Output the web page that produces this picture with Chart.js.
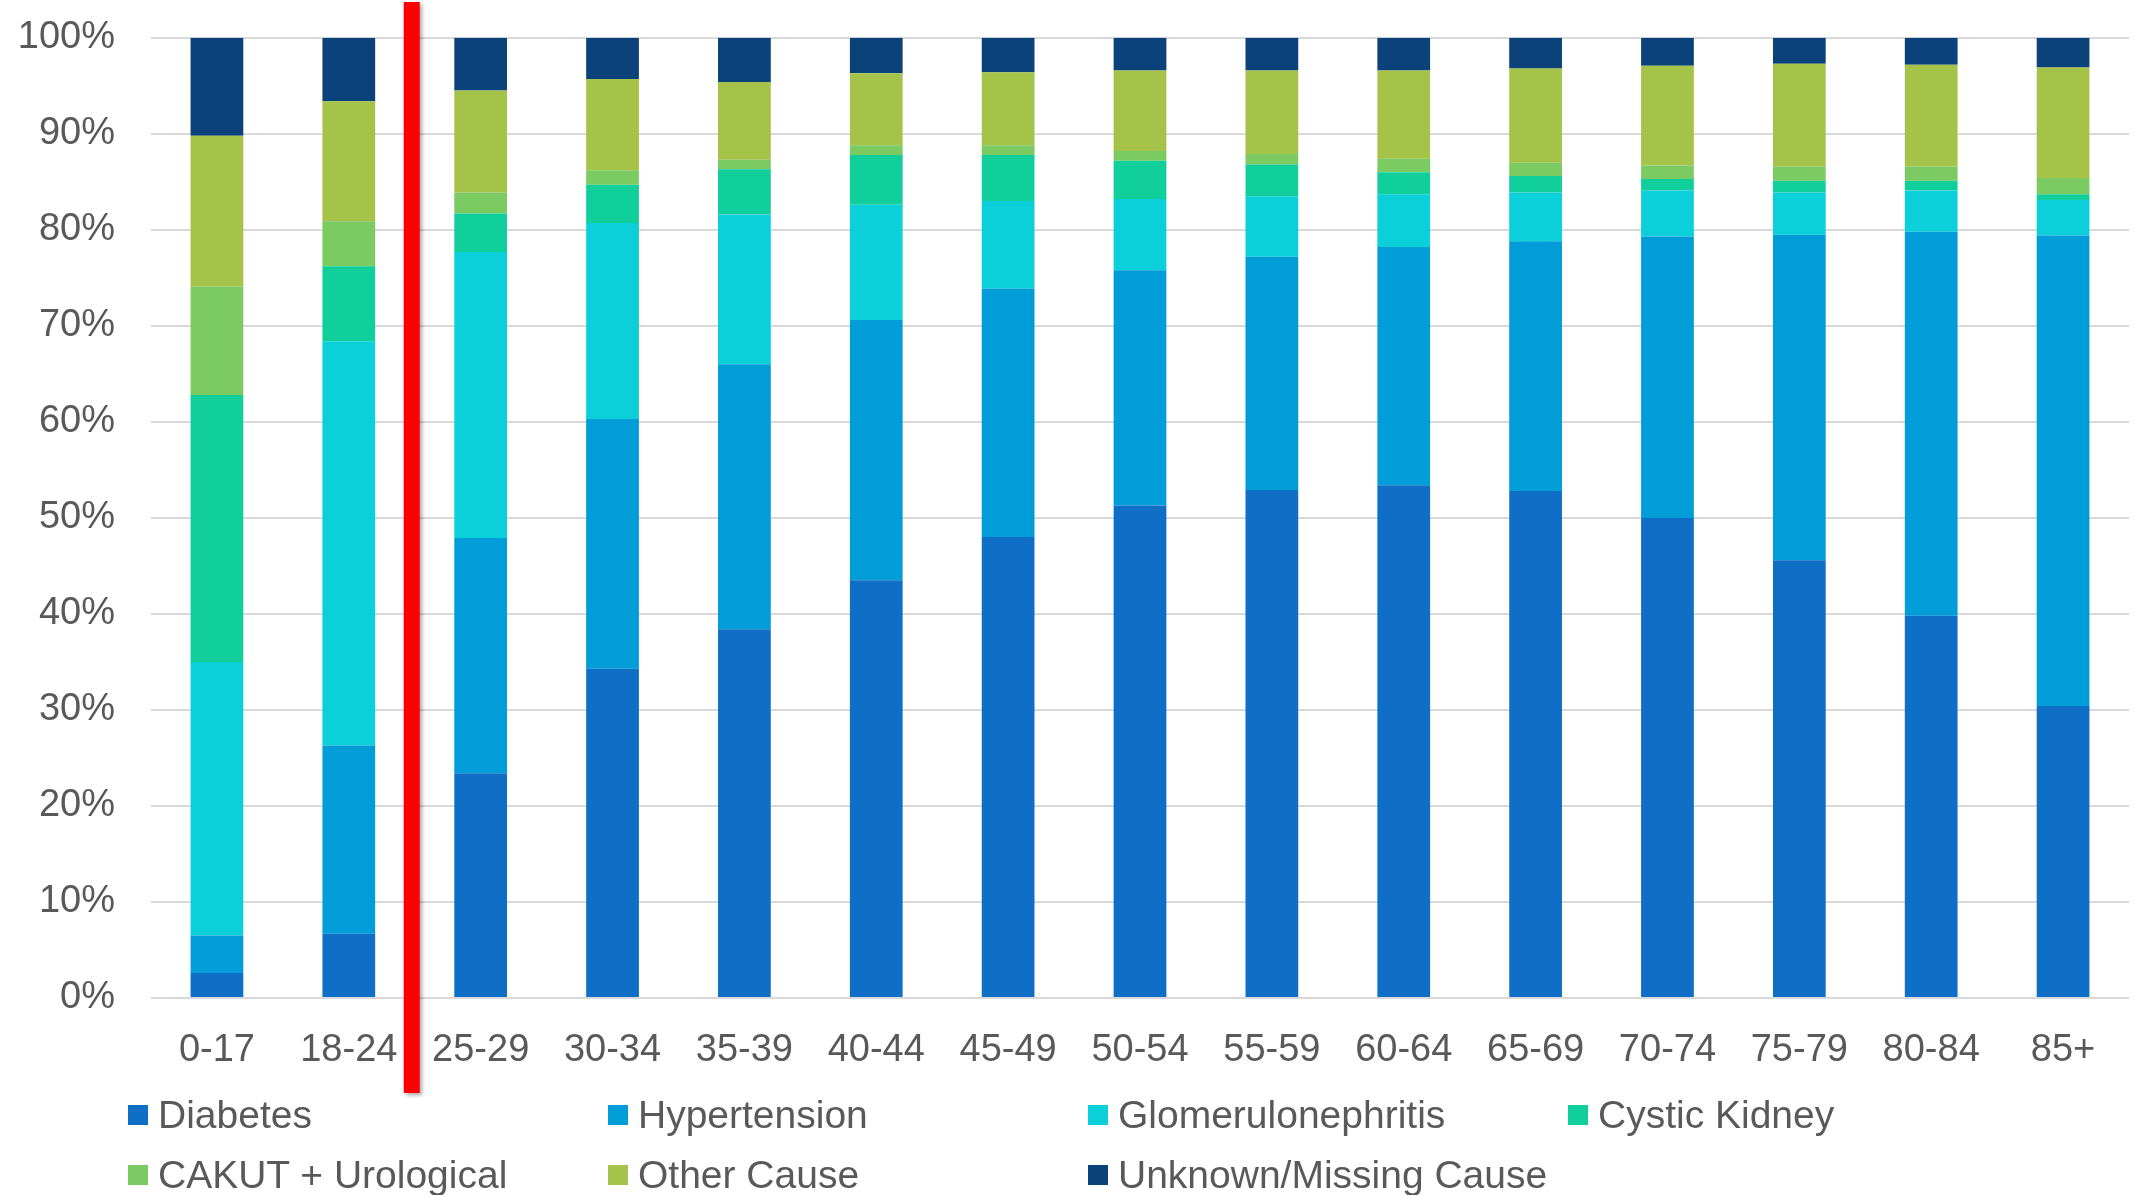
<!DOCTYPE html>
<html>
<head>
<meta charset="utf-8">
<script src="https://cdn.jsdelivr.net/npm/chart.js@4.4.1/dist/chart.umd.min.js"></script>
<style>
  body {
    margin: 0;
    background: #ffffff;
    overflow: hidden;
  }
  .wrap {
    position: relative;
    width: 2139px;
    height: 1195px;
    overflow: hidden;
  }
  /* the canvas sits a little above the page top so the plot can start higher */
  #causes-chart {
    position: absolute;
    left: 0;
    top: -21px;
  }
  .legend {
    position: absolute;
    left: 128px;
    top: 1085px;
    display: grid;
    grid-template-columns: repeat(4, 480px);
    font-family: "Liberation Sans", Arial, sans-serif;
    font-size: 39px;
    color: #595959;
  }
  .legend-item {
    display: flex;
    align-items: center;
    height: 60px;
    white-space: nowrap;
  }
  .legend-item span {
    display: inline-block;
    width: 20px;
    height: 20px;
    margin-right: 10px;
  }
</style>
</head>
<body>
<div class="wrap">
  <canvas id="causes-chart" width="2139" height="1216"></canvas>
  <div class="legend" id="causes-legend"></div>
</div>
<script>
const ageGroups = [
  "0-17", "18-24", "25-29", "30-34", "35-39", "40-44", "45-49", "50-54",
  "55-59", "60-64", "65-69", "70-74", "75-79", "80-84", "85+",
];

// share of each primary cause per age group, in percent
const diabetes = [2.6, 6.7, 23.4, 34.3, 38.4, 43.5, 48.0, 51.3, 52.9, 53.4, 52.8, 50.0, 45.6, 39.8, 30.4];
const hypertension = [3.9, 19.6, 24.5, 26.0, 27.6, 27.1, 25.9, 24.5, 24.3, 24.8, 26.0, 29.3, 33.9, 40.0, 49.0];
const glomerulonephritis = [28.5, 42.1, 29.8, 20.4, 15.6, 12.0, 9.1, 7.4, 6.3, 5.5, 5.1, 4.8, 4.4, 4.3, 3.7];
const cysticKidney = [27.8, 7.8, 4.0, 4.0, 4.7, 5.2, 4.8, 4.0, 3.3, 2.3, 1.7, 1.2, 1.2, 1.0, 0.6];
const cakutUrological = [11.3, 4.7, 2.2, 1.5, 1.0, 1.0, 1.0, 1.0, 1.1, 1.4, 1.4, 1.4, 1.5, 1.5, 1.7];
const otherCause = [15.7, 12.5, 10.6, 9.5, 8.1, 7.5, 7.6, 8.4, 8.7, 9.2, 9.8, 10.4, 10.7, 10.6, 11.5];
const unknownCause = [10.2, 6.6, 5.5, 4.3, 4.6, 3.7, 3.6, 3.4, 3.4, 3.4, 3.2, 2.9, 2.7, 2.8, 3.1];

const percentTicks = [0, 10, 20, 30, 40, 50, 60, 70, 80, 90, 100];

const series = [
  { label: "Diabetes", data: diabetes, color: "#0F6FC6" },
  { label: "Hypertension", data: hypertension, color: "#009DD9" },
  { label: "Glomerulonephritis", data: glomerulonephritis, color: "#0BD0D9" },
  { label: "Cystic Kidney", data: cysticKidney, color: "#10CF9B" },
  { label: "CAKUT + Urological", data: cakutUrological, color: "#7CCA62" },
  { label: "Other Cause", data: otherCause, color: "#A5C249" },
  { label: "Unknown/Missing Cause", data: unknownCause, color: "#0B4279" },
];

const tickFont = { family: "'Liberation Sans', Arial, sans-serif", size: 38 };

// red divider between the 18-24 and 25-29 groups
const dividerLine = {
  id: "dividerLine",
  afterDraw(chart) {
    const ctx = chart.ctx;
    const x = chart.scales.x.getPixelForValue(1.5) - 3;
    ctx.save();
    ctx.shadowColor = "rgba(0, 0, 0, 0.35)";
    ctx.shadowBlur = 4;
    ctx.shadowOffsetX = 2;
    ctx.shadowOffsetY = 2;
    ctx.fillStyle = "#FF0000";
    ctx.fillRect(x - 8, 23, 16, 1091);
    ctx.restore();
  },
};

const causesCtx = document.getElementById("causes-chart").getContext("2d");

new Chart(causesCtx, {
  type: "bar",
  data: {
    labels: ageGroups,
    datasets: series.map((s) => ({
      label: s.label,
      data: s.data,
      backgroundColor: s.color,
      borderWidth: 0,
      barPercentage: 0.4,
      categoryPercentage: 1,
    })),
  },
  options: {
    responsive: false,
    animation: false,
    layout: {
      autoPadding: false,
      padding: { top: 17, right: 10, left: 0, bottom: 0 },
    },
    plugins: {
      legend: { display: false },
      tooltip: { enabled: false },
    },
    scales: {
      x: {
        stacked: true,
        grid: { display: false },
        border: { display: false },
        ticks: { color: "#595959", font: tickFont, padding: 22, maxRotation: 0 },
        afterFit: (scale) => {
          scale.height = 197;
        },
      },
      y: {
        stacked: true,
        min: 0,
        max: 100,
        afterBuildTicks: (scale) => {
          scale.ticks = percentTicks.map((v) => ({ value: v }));
        },
        grid: { color: "#D9D9D9", lineWidth: 2, drawTicks: false },
        border: { display: false },
        ticks: {
          color: "#595959",
          font: tickFont,
          padding: 36,
          callback: (v) => v + "%",
        },
        afterFit: (scale) => {
          scale.width = 151;
        },
      },
    },
  },
  plugins: [dividerLine],
});

const legend = document.getElementById("causes-legend");
let items = "";
series.forEach((s) => {
  items += `<div class="legend-item"><span style="background:${s.color}"></span>${s.label}</div>`;
});
legend.innerHTML = items;
</script>
</body>
</html>
